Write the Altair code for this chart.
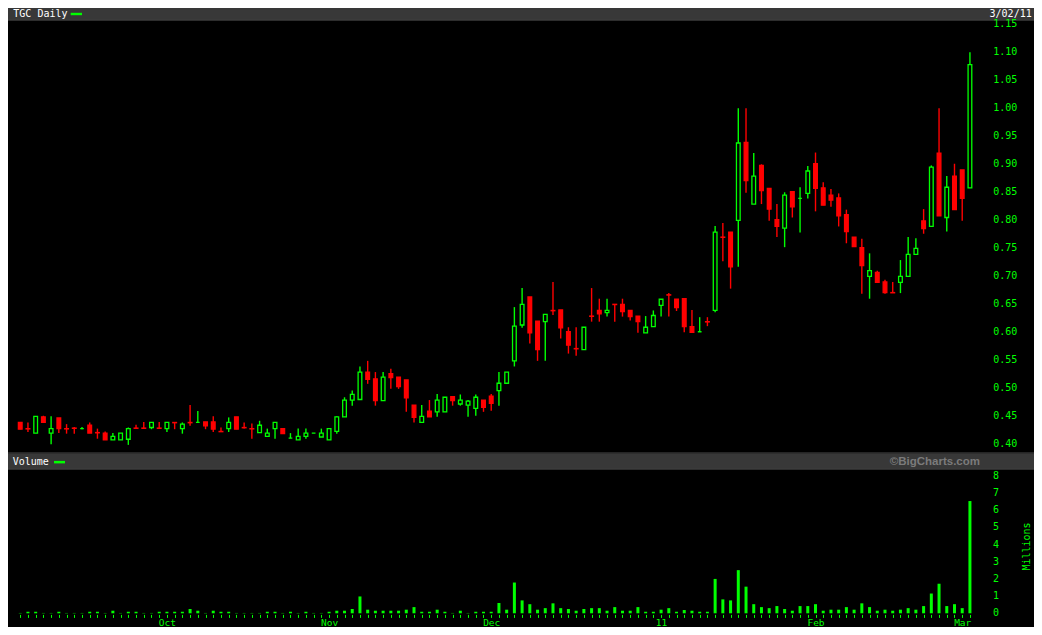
import altair as alt
import pandas as pd

# ---------------- data ----------------
open_ = [
    .439, .428, .420, .449, .420, .447, .428, .429, .428, .434,
    .421, .420, .408, .408, .409, .429, .429, .430, .429, .428,
    .439, .428, .439, .439, .440, .440, .423, .428, .449, .430,
    .428, .421, .414, .428, .428, .411, .408, .414, .420, .413,
    .408, .423, .449, .479, .480, .529, .517, .478, .526, .520,
    .515, .470, .439, .459, .458, .458, .485, .472, .470, .464,
    .479, .486, .496, .509, .549, .613, .663, .620, .619, .639,
    .640, .601, .571, .569, .629, .639, .635, .650, .650, .639,
    .629, .599, .610, .648, .667, .659, .660, .610, .601, .619,
    .639, .770, .779, .800, .939, .829, .898, .857, .801, .786,
    .851, .839, .848, .901, .858, .845, .840, .810, .770, .751,
    .700, .707, .690, .671, .689, .700, .739, .799, .789, .920,
    .805, .879, .890, .858]

high = [
    .439, .439, .450, .451, .450, .447, .436, .431, .431, .439,
    .428, .423, .420, .420, .430, .435, .440, .439, .440, .439,
    .439, .439, .470, .4595, .440, .450, .430, .448, .449, .439,
    .437, .442, .428, .439, .428, .420, .428, .428, .420, .428,
    .428, .450, .484, .496, .539, .549, .529, .529, .535, .520,
    .515, .470, .470, .479, .490, .484, .485, .489, .479, .489,
    .479, .490, .529, .529, .645, .679, .663, .620, .632, .690,
    .640, .609, .609, .609, .679, .660, .660, .650, .660, .639,
    .629, .629, .639, .659, .670, .659, .660, .640, .627, .627,
    .790, .795, .779, 1.000, 1.000, .920, .900, .857, .829, .850,
    .852, .859, .897, .921, .868, .856, .848, .819, .770, .767,
    .741, .710, .694, .690, .729, .770, .768, .820, .898, 1.000,
    .879, .901, .890, 1.100]

low = [
    .427, .422, .420, .439, .400, .420, .419, .419, .427, .420,
    .410, .408, .408, .408, .399, .428, .429, .427, .429, .422,
    .427, .419, .433, .439, .427, .422, .423, .422, .427, .428,
    .410, .421, .414, .410, .419, .411, .408, .410, .420, .413,
    .408, .419, .449, .469, .480, .508, .469, .478, .499, .499,
    .458, .439, .439, .449, .449, .458, .469, .469, .449, .451,
    .458, .460, .469, .509, .539, .608, .580, .549, .549, .631,
    .589, .562, .558, .569, .619, .619, .628, .619, .628, .621,
    .599, .599, .610, .628, .628, .638, .600, .600, .601, .611,
    .636, .727, .678, .717, .849, .829, .829, .799, .770, .752,
    .805, .778, .839, .816, .827, .824, .789, .759, .753, .669,
    .660, .689, .669, .670, .670, .700, .739, .776, .789, .808,
    .780, .819, .799, .858]

close = [
    .427, .4275, .450, .439, .428, .428, .4275, .4285, .428, .420,
    .4205, .408, .414, .420, .428, .4285, .4285, .439, .4285, .439,
    .4385, .436, .4385, .439, .433, .427, .4225, .439, .427, .4295,
    .4275, .434, .420, .439, .419, .411, .414, .420, .420, .420,
    .428, .449, .479, .489, .529, .516, .478, .520, .519, .503,
    .483, .448, .450, .449, .479, .484, .478, .479, .477, .484,
    .466, .473, .509, .529, .611, .650, .599, .569, .632, .6385,
    .608, .577, .5705, .609, .6285, .633, .639, .6495, .637, .628,
    .619, .609, .630, .659, .6665, .644, .610, .600, .601, .6185,
    .779, .7695, .717, .938, .871, .879, .853, .820, .789, .845,
    .824, .839, .888, .857, .827, .836, .808, .780, .753, .719,
    .710, .689, .671, .6705, .700, .739, .750, .785, .895, .808,
    .859, .819, .839, 1.078]

volume = [  # millions
    .02, .09, .09, .02, .02, .09, .02, .02, .02, .09,
    .09, .02, .15, .02, .09, .09, .02, .02, .09, .09,
    .09, .09, .25, .15, .02, .15, .09, .09, .02, .02,
    .02, .02, .09, .09, .02, .09, .02, .09, .02, .02,
    .09, .15, .15, .25, .98, .21, .15, .15, .15, .15,
    .21, .36, .09, .09, .21, .09, .02, .15, .02, .09,
    .09, .09, .60, .21, 1.79, .75, .53, .21, .30, .58,
    .30, .25, .15, .25, .30, .30, .15, .36, .15, .15,
    .36, .09, .09, .21, .30, .09, .19, .15, .09, .09,
    2.00, .81, .75, 2.51, 1.55, .53, .36, .30, .42, .25,
    .15, .42, .42, .53, .15, .21, .21, .36, .21, .58,
    .36, .15, .21, .15, .21, .30, .21, .42, 1.15, 1.72,
    .42, .53, .30, 6.53]

month_idx = [19, 40, 61, 83, 103, 122]
month_lbl = ["Oct", "Nov", "Dec", "11", "Feb", "Mar"]

price_ticks = [0.40, 0.45, 0.50, 0.55, 0.60, 0.65, 0.70, 0.75,
               0.80, 0.85, 0.90, 0.95, 1.00, 1.05, 1.10, 1.15]
vol_ticks = [0, 1, 2, 3, 4, 5, 6, 7, 8]

n = len(open_)
assert len(high) == n and len(low) == n and len(close) == n and len(volume) == n

df = pd.DataFrame({"i": list(range(n)), "open": open_, "high": high,
                   "low": low, "close": close, "volume": volume})
df["dir"] = ["up" if c >= o else "down" for o, c in zip(open_, close)]

# ---------------- styling ----------------
W, H = 1026, 619
GREEN = "#00ff00"
RED = "#ff0000"
HDR = "#383838"
MONO = "DejaVu Sans Mono"

label_expr = " : ".join(
    f"datum.value == {k} ? '{m}'" for k, m in zip(month_idx, month_lbl)) + " : ''"

xenc = alt.X(
    "i:Q",
    scale=alt.Scale(domain=[-0.936, 130.65], nice=False, zero=False),
    axis=alt.Axis(values=list(range(n)), labelExpr=label_expr, orient="bottom",
                  offset=-12.6, tickSize=3, tickColor=GREEN, tickWidth=1,
                  domain=False, grid=False, labelColor=GREEN, labelFont=MONO,
                  labelFontSize=9.5, labelPadding=0, labelOverlap=False,
                  labelFlush=False, title=None),
)

pscale = alt.Scale(domain=[0.07375, 1.17911], nice=False, zero=False)
vscale = alt.Scale(domain=[-0.797, 35.212], nice=False, zero=False)
col = alt.Color("dir:N", scale=alt.Scale(domain=["up", "down"], range=[GREEN, RED]), legend=None)

base = alt.Chart(df)

wicks = base.mark_rule(strokeWidth=1.4).encode(
    x=xenc,
    y=alt.Y("low:Q", scale=pscale, axis=None),
    y2="high:Q",
    color=col,
)

bodies = base.mark_bar(width=3.7, strokeWidth=1.3).encode(
    x=xenc,
    y=alt.Y("open:Q", scale=pscale, axis=None),
    y2="close:Q",
    stroke=alt.Stroke("dir:N", scale=alt.Scale(domain=["up", "down"], range=[GREEN, RED]), legend=None),
    fill=alt.Fill("dir:N", scale=alt.Scale(domain=["up", "down"], range=["#000000", RED]), legend=None),
)

plabels = alt.Chart(pd.DataFrame({"p": price_ticks,
                                  "t": [f"{v:.2f}" for v in price_ticks]})).mark_text(
    align="left", baseline="middle", color=GREEN, font=MONO, fontSize=10
).encode(x=alt.value(985.3), y=alt.Y("p:Q", scale=pscale, axis=None), text="t:N")

price = alt.layer(wicks, bodies, plabels)

vbars = base.mark_bar(width=3, color=GREEN).encode(
    x=xenc,
    y=alt.Y("volume:Q", scale=vscale, axis=None),
    y2=alt.datum(0),
)
vlabels = alt.Chart(pd.DataFrame({"v": vol_ticks,
                                  "t": [str(v) for v in vol_ticks]})).mark_text(
    align="left", baseline="middle", color=GREEN, font=MONO, fontSize=10
).encode(x=alt.value(985.0), y=alt.Y("v:Q", scale=vscale, axis=None), text="t:N")

vol = alt.layer(vbars, vlabels)

one = pd.DataFrame({"k": [0]})


def box(x1, x2, y1, y2, color):
    return alt.Chart(one).mark_rect(color=color).encode(
        x=alt.value(x1), x2=alt.value(x2), y=alt.value(y1), y2=alt.value(y2))


def label(txt, x, y, color="#ffffff", align="left", font=MONO, size=10,
          weight="normal", angle=0):
    return alt.Chart(pd.DataFrame({"t": [txt]})).mark_text(
        align=align, baseline="middle", color=color, font=font, fontSize=size,
        fontWeight=weight, angle=angle
    ).encode(x=alt.value(x), y=alt.value(y), text="t:N")


decor = alt.layer(
    box(0, W, 0.0, 11.5, HDR),
    box(0, W, 11.5, 12.5, "#5a5a5a"),
    box(0, W, 444.6, 445.6, "#4a4a4a"),
    box(0, W, 445.6, 460.4, HDR),
    box(0, W, 460.4, 461.4, "#5a5a5a"),
    box(62.7, 74.0, 4.8, 7.2, GREEN),
    box(46.0, 57.0, 452.9, 455.4, GREEN),
    label("TGC Daily", 5.3, 6.0),
    label("3/02/11", 1023.7, 6.0, align="right"),
    label("Volume", 4.7, 454.3),
    label("\u00a9BigCharts.com", 972.0, 454.0, color="#7b7b7b", align="right",
          font="Liberation Sans", size=11.5, weight="bold"),
    label("Millions", 1019.0, 538.5, color=GREEN, align="center", angle=270),
)

chart = alt.layer(decor, price, vol).resolve_scale(
    y="independent"
).properties(
    width=W, height=H, autosize=alt.AutoSizeParams(type="none"), padding=0,
    background="#000000",
).configure_view(stroke=None)

chart.save("out.html", embed_options={"renderer": "svg", "actions": False})
